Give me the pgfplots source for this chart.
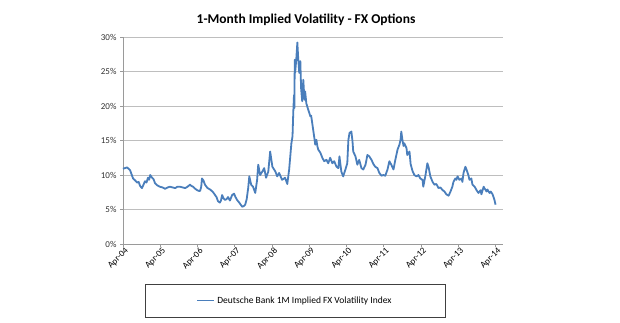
\documentclass[border=0pt]{standalone}
\usepackage{pgfplots}
\pgfplotsset{compat=1.18}
\usepackage{fontspec}
\setmainfont{Carlito}
\definecolor{xlblue}{HTML}{4A7EBB}
\definecolor{gridgray}{HTML}{BEBEBE}
\definecolor{axgray}{HTML}{9A9A9A}
\begin{document}
\begin{tikzpicture}
\begin{axis}[
  scale only axis,
  width=380pt, height=207pt,
  xmin=0, xmax=10.2, ymin=0, ymax=30,
  axis x line*=bottom, axis y line*=left,
  axis line style={axgray, line width=0.8pt},
  xtick={0,1,2,3,4,5,6,7,8,9,10},
  xticklabels={Apr-04,Apr-05,Apr-06,Apr-07,Apr-08,Apr-09,Apr-10,Apr-11,Apr-12,Apr-13,Apr-14},
  x tick label style={rotate=45, anchor=north east, font=\fontsize{9}{10}\selectfont, inner sep=1pt, xshift=2pt},
  ytick={0,5,10,15,20,25,30},
  yticklabels={0\%,5\%,10\%,15\%,20\%,25\%,30\%},
  y tick label style={font=\fontsize{9}{10}\selectfont, color=black!80},
  tick style={axgray, line width=0.6pt},
  xtick align=outside, ytick align=outside,
  major tick length=3pt,
  ymajorgrids, grid style={gridgray, line width=0.8pt},
  clip=false,
  legend style={draw=none, fill=none, at={(rel axis cs:0.4526,-0.273)}, anchor=center, font=\fontsize{9.5}{11}\selectfont},
  legend cell align=left,
  legend image code/.code={\draw[#1] (0cm,0cm) -- (0.6cm,0cm);},
]
\addplot[xlblue, line width=1.8pt, line join=round] coordinates {
(0,10.9)(0.05,11.0)(0.11,11.1)(0.19,10.7)(0.27,9.5)(0.33,9.2)(0.38,8.9)(0.42,9.0)(0.46,8.4)(0.51,8.1)(0.55,8.6)(0.59,9.1)(0.63,8.9)(0.67,9.6)(0.70,9.3)(0.73,10.0)(0.78,9.6)(0.82,9.4)(0.86,8.8)(0.92,8.5)(0.99,8.3)(1.06,8.2)(1.13,8.0)(1.20,8.2)(1.26,8.3)(1.33,8.2)(1.40,8.1)(1.46,8.3)(1.53,8.3)(1.60,8.2)(1.67,8.1)(1.73,8.3)(1.80,8.6)(1.84,8.4)(1.88,8.3)(1.94,8.0)(1.99,7.8)(2.03,7.7)(2.07,7.7)(2.10,8.3)(2.12,9.5)(2.16,9.2)(2.20,8.6)(2.27,8.1)(2.34,7.9)(2.38,7.7)(2.42,7.5)(2.47,7.1)(2.51,6.8)(2.55,6.2)(2.60,6.0)(2.63,6.3)(2.66,7.1)(2.70,6.6)(2.74,6.4)(2.78,6.5)(2.82,6.8)(2.87,6.3)(2.93,7.1)(2.98,7.3)(3.02,6.8)(3.06,6.4)(3.12,6.0)(3.20,5.4)(3.24,5.5)(3.28,5.7)(3.32,6.5)(3.36,8.1)(3.39,9.8)(3.44,8.6)(3.49,8.3)(3.55,7.4)(3.60,9.3)(3.63,11.5)(3.68,10.0)(3.74,10.5)(3.79,11.0)(3.84,9.6)(3.90,10.5)(3.95,13.4)(4.01,11.2)(4.09,10.5)(4.14,9.8)(4.19,10.3)(4.27,9.3)(4.35,9.6)(4.41,8.7)(4.46,10.8)(4.52,14.6)(4.55,15.6)(4.57,19.0)(4.59,21.6)(4.60,19.7)(4.61,26.7)(4.62,24.8)(4.65,26.7)(4.68,29.2)(4.70,27.2)(4.73,24.8)(4.76,26.5)(4.78,22.6)(4.81,20.7)(4.84,23.8)(4.87,20.9)(4.89,22.1)(4.92,20.4)(4.97,19.5)(5.03,18.5)(5.05,18.6)(5.08,17.5)(5.13,15.6)(5.16,14.4)(5.19,15.1)(5.22,14.1)(5.24,13.7)(5.30,13.2)(5.35,12.5)(5.40,12.0)(5.46,12.2)(5.51,11.7)(5.56,12.5)(5.62,11.7)(5.67,12.0)(5.73,11.2)(5.78,11.0)(5.81,12.7)(5.86,10.5)(5.91,9.8)(5.97,10.8)(6.02,11.7)(6.05,15.1)(6.08,16.1)(6.13,16.3)(6.16,14.9)(6.18,13.4)(6.24,12.7)(6.29,11.5)(6.34,12.2)(6.40,11.0)(6.45,10.8)(6.51,11.5)(6.56,12.9)(6.61,12.7)(6.67,12.2)(6.72,11.6)(6.77,11.2)(6.83,11.0)(6.88,10.3)(6.94,9.9)(6.99,10.0)(7.04,9.9)(7.10,10.8)(7.15,12.0)(7.20,11.5)(7.26,10.8)(7.31,12.2)(7.37,13.7)(7.42,14.4)(7.45,15.1)(7.47,16.3)(7.50,15.1)(7.53,14.2)(7.55,14.6)(7.61,13.9)(7.63,12.9)(7.69,13.4)(7.72,11.6)(7.77,10.6)(7.82,10.0)(7.88,9.8)(7.93,10.0)(7.98,9.5)(8.04,9.3)(8.06,8.3)(8.12,10.0)(8.17,11.7)(8.20,11.2)(8.25,9.8)(8.31,9.0)(8.36,8.6)(8.41,8.7)(8.47,8.1)(8.52,8.2)(8.58,7.8)(8.63,7.6)(8.68,7.2)(8.74,7.0)(8.79,7.6)(8.84,8.3)(8.87,9.0)(8.92,9.5)(8.95,9.3)(8.98,9.8)(9.03,9.3)(9.09,9.5)(9.11,9.0)(9.14,10.3)(9.19,11.2)(9.22,10.8)(9.27,10.0)(9.30,9.3)(9.35,9.5)(9.38,8.6)(9.44,8.3)(9.49,7.8)(9.54,7.4)(9.60,7.8)(9.62,7.2)(9.68,8.3)(9.70,8.1)(9.76,7.6)(9.78,7.9)(9.84,7.4)(9.87,7.6)(9.92,7.2)(9.97,6.4)(10.0,5.7)
};
\addlegendentry{Deutsche Bank 1M Implied FX Volatility Index}
\end{axis}
\draw[black!75, line width=0.6pt] ([shift={(22pt,-73pt)}]current axis.south west) rectangle ([shift={(322pt,-40pt)}]current axis.south west);
\node[font=\bfseries\fontsize{13.5}{15}\selectfont] at ([shift={(183pt,224pt)}]current axis.south west) {1-Month Implied Volatility - FX Options};
\path ([shift={(-123pt,-78pt)}]current axis.south west) rectangle ([shift={(497pt,244pt)}]current axis.south west);
\end{tikzpicture}
\end{document}
